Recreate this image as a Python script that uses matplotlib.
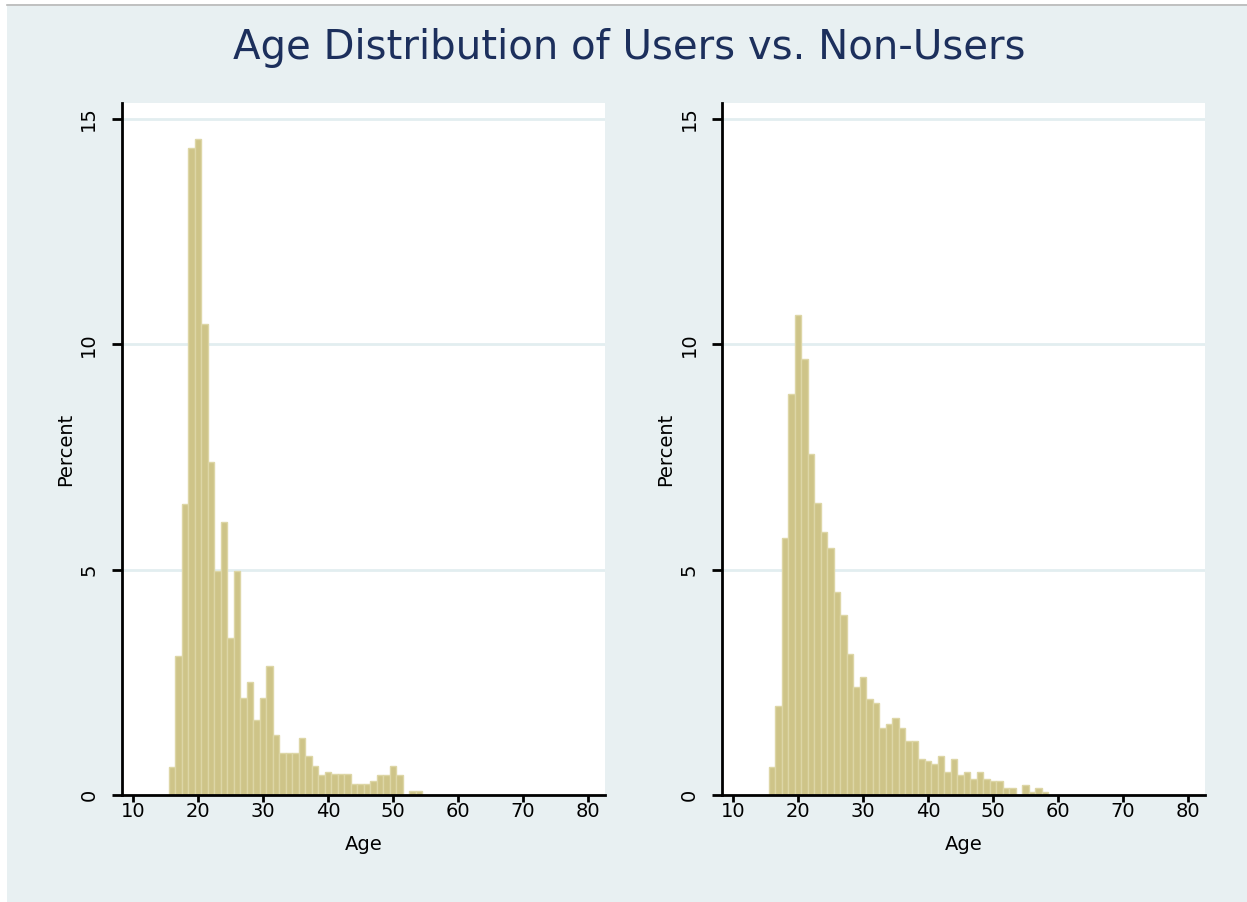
import numpy as np
import matplotlib.pyplot as plt
from matplotlib.patches import Rectangle
from matplotlib.lines import Line2D

# percent of respondents per single year of age
users_age = np.arange(16, 55)
users_pct = [0.62, 3.08, 6.46, 14.35, 14.55, 10.45, 7.38, 4.97, 6.05, 3.49,
             4.97, 2.16, 2.51, 1.67, 2.16, 2.87, 1.33, 0.93, 0.93, 0.93,
             1.27, 0.87, 0.64, 0.44, 0.50, 0.46, 0.46, 0.46, 0.24, 0.24,
             0.24, 0.30, 0.44, 0.44, 0.64, 0.44, 0.0, 0.10, 0.10]

nonusers_age = np.arange(16, 59)
nonusers_pct = [0.62, 1.97, 5.70, 8.90, 10.65, 9.67, 7.57, 6.47, 5.83, 5.47,
                4.50, 4.00, 3.12, 2.40, 2.62, 2.13, 2.04, 1.48, 1.57, 1.70,
                1.49, 1.20, 1.20, 0.79, 0.75, 0.68, 0.86, 0.52, 0.79, 0.44,
                0.50, 0.35, 0.50, 0.36, 0.30, 0.30, 0.15, 0.15, 0.0, 0.22,
                0.07, 0.15, 0.07]

x_ticks = [10, 20, 30, 40, 50, 60, 70, 80]
y_ticks = [0, 5, 10, 15]

bg = '#e8f0f2'
bar_fill = '#cec488'
bar_edge = '#ddd6a6'
grid_col = '#e2eef0'
title_col = '#1c2f5c'

fig = plt.figure(figsize=(12.47, 9.02), dpi=100, facecolor=bg)

# thin white border and grey rule along the top, as in the screenshot
fig.patches.append(Rectangle((0, 0.9956), 1, 0.0044, transform=fig.transFigure,
                             facecolor='white', edgecolor='none', zorder=-1))
fig.patches.append(Rectangle((0, 0), 0.0056, 1, transform=fig.transFigure,
                             facecolor='white', edgecolor='none', zorder=-1))
fig.lines.append(Line2D([0.0056, 1], [0.9950, 0.9950], transform=fig.transFigure,
                        color='#b8b8b8', lw=1.2))

panels = [(0.0978, users_age, users_pct), (0.5790, nonusers_age, nonusers_pct)]

for x0, ages, pct in panels:
    ax = fig.add_axes([x0, 0.1186, 0.3873, 0.7672])
    ax.set_facecolor('white')
    ax.bar(ages, pct, width=1.0, align='center', color=bar_fill,
           edgecolor=bar_edge, linewidth=1.0, zorder=3)
    ax.set_xlim(8.3, 82.6)
    ax.set_ylim(0, 15.35)
    ax.set_xticks(x_ticks)
    ax.set_yticks(y_ticks)
    for y in y_ticks[1:]:
        ax.axhline(y, color=grid_col, lw=2, zorder=1)
    for s in ['top', 'right']:
        ax.spines[s].set_visible(False)
    for s in ['left', 'bottom']:
        ax.spines[s].set_linewidth(2)
        ax.spines[s].set_color('black')
        ax.spines[s].set_zorder(5)
    ax.tick_params(axis='x', length=5, width=2, pad=0, labelsize=14)
    ax.tick_params(axis='y', length=7, width=2, pad=10, labelsize=14)
    for lab in ax.get_yticklabels():
        lab.set_rotation(90)
        lab.set_va('center')
    ax.set_xlabel('Age', fontsize=14, labelpad=10)
    ax.set_ylabel('Percent', fontsize=14, labelpad=3)

fig.text(0.505, 0.947, 'Age Distribution of Users vs. Non-Users',
         ha='center', va='center', fontsize=29, color=title_col)

fig.savefig('out.png', dpi=100, facecolor=bg)
